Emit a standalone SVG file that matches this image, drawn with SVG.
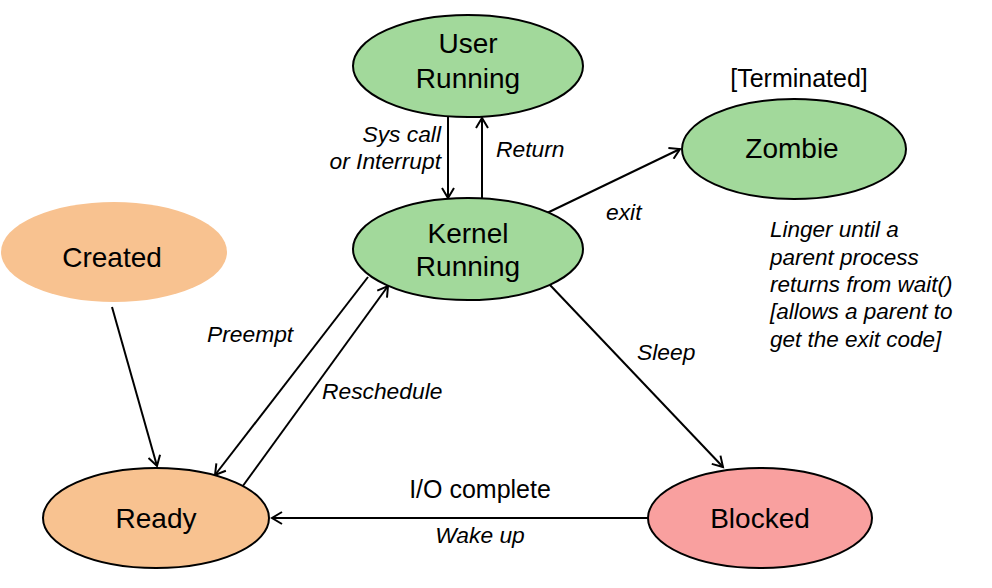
<svg xmlns="http://www.w3.org/2000/svg" width="992" height="588" viewBox="0 0 992 588">
<style>
.node{stroke:#000;stroke-width:2}
.green{fill:#a2d99b}
.peach{fill:#f8c290}
.pink{fill:#f9a09f}
.lbl{font-family:"Liberation Sans",Arial,sans-serif;font-size:28px;fill:#000;text-anchor:middle}
.edge{font-family:"Liberation Sans",Arial,sans-serif;font-size:22.8px;font-style:italic;fill:#000}
.plain{font-family:"Liberation Sans",Arial,sans-serif;font-size:25px;fill:#000}
.note{font-family:"Liberation Sans",Arial,sans-serif;font-size:22.5px;font-style:italic;fill:#000}
.conn{stroke:#000;stroke-width:2;fill:none;marker-end:url(#arr)}
</style>
<defs>
<marker id="arr" markerWidth="14" markerHeight="14" refX="11" refY="7" orient="auto" markerUnits="userSpaceOnUse">
<path d="M1,1 L11,7 L1,13" fill="none" stroke="#000" stroke-width="2"/>
</marker>
</defs>
<rect width="992" height="588" fill="#fff"/>
<g id="connectors">
<line class="conn" x1="448" y1="117" x2="448" y2="198"/>
<line class="conn" x1="482" y1="199" x2="482" y2="118"/>
<line class="conn" x1="547" y1="213" x2="680" y2="149"/>
<line class="conn" x1="112" y1="307" x2="157" y2="466"/>
<line class="conn" x1="368" y1="277" x2="215" y2="475"/>
<line class="conn" x1="237" y1="494" x2="388" y2="286"/>
<line class="conn" x1="550" y1="285" x2="723" y2="467"/>
<line class="conn" x1="648" y1="518" x2="272" y2="518"/>
</g>
<g id="user-running">
<ellipse class="node green" cx="468" cy="66" rx="115" ry="51"/>
<text class="lbl" x="468" y="53">User</text>
<text class="lbl" x="468" y="88">Running</text>
</g>
<g id="kernel-running">
<ellipse class="node green" cx="468" cy="249" rx="115" ry="51"/>
<text class="lbl" x="468" y="243">Kernel</text>
<text class="lbl" x="468" y="276">Running</text>
</g>
<g id="zombie">
<text class="plain" x="799" y="87" text-anchor="middle">[Terminated]</text>
<ellipse class="node green" cx="794" cy="149" rx="112" ry="50"/>
<text class="lbl" x="792" y="158">Zombie</text>
</g>
<g id="created">
<ellipse class="peach" cx="114" cy="252" rx="113" ry="50"/>
<text class="lbl" x="112" y="267">Created</text>
</g>
<g id="ready">
<ellipse class="node peach" cx="156" cy="518" rx="113" ry="50"/>
<text class="lbl" x="156" y="528">Ready</text>
</g>
<g id="blocked">
<ellipse class="node pink" cx="760" cy="518" rx="112" ry="50"/>
<text class="lbl" x="760" y="528">Blocked</text>
</g>
<g id="labels">
<text class="edge" x="441" y="142" text-anchor="end">Sys call</text>
<text class="edge" x="441" y="169" text-anchor="end">or Interrupt</text>
<text class="edge" x="496" y="157">Return</text>
<text class="edge" x="606" y="220">exit</text>
<text class="edge" x="207" y="342">Preempt</text>
<text class="edge" x="322" y="399">Reschedule</text>
<text class="edge" x="637" y="360">Sleep</text>
<text class="plain" x="480" y="498" text-anchor="middle">I/O complete</text>
<text class="edge" x="480" y="543" text-anchor="middle">Wake up</text>
<text class="note" x="770" y="237">Linger until a</text>
<text class="note" x="770" y="265">parent process</text>
<text class="note" x="770" y="292">returns from wait()</text>
<text class="note" x="770" y="319">[allows a parent to</text>
<text class="note" x="770" y="347">get the exit code]</text>
</g>
</svg>
